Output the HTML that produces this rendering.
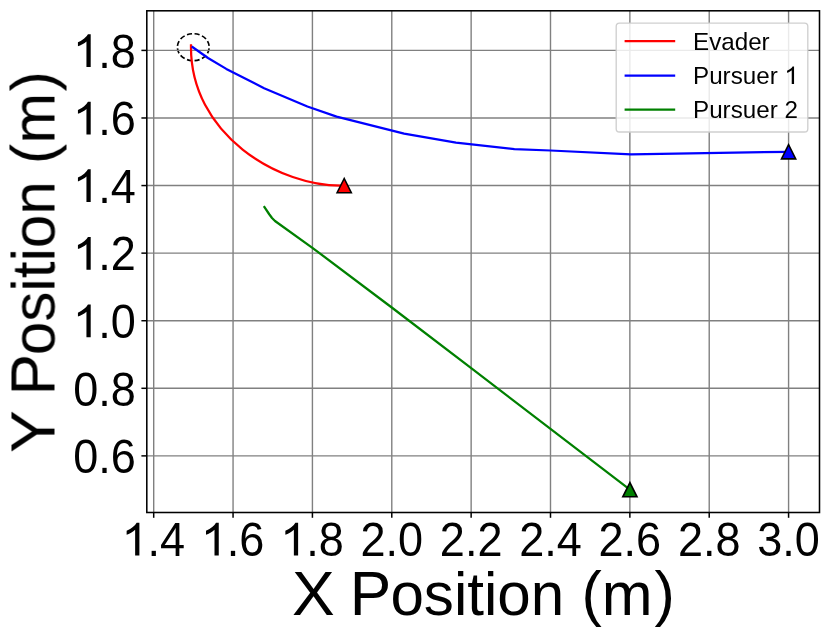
<!DOCTYPE html>
<html><head><meta charset="utf-8"><title>plot</title>
<style>html,body{margin:0;padding:0;background:#fff;width:831px;height:638px;overflow:hidden}svg text{font-family:"Liberation Sans",sans-serif}</style>
</head><body>
<svg width="831" height="638" viewBox="0 0 831 638" style="display:block;position:absolute;left:0;top:0">
<rect x="0" y="0" width="831" height="638" fill="#fff"/>
<path d="M209.20000000000002,47.2 A15.9,13.5 0 1 0 177.4,47.2 A15.9,13.5 0 1 0 209.20000000000002,47.2" fill="none" stroke="#000" stroke-width="1.7" pathLength="12" stroke-dasharray="0.66 0.34" stroke-dashoffset="0.83"/>
<g stroke="#808080" stroke-width="1.4" fill="none"><line x1="153.70" y1="10.8" x2="153.70" y2="512.5"/><line x1="233.06" y1="10.8" x2="233.06" y2="512.5"/><line x1="312.42" y1="10.8" x2="312.42" y2="512.5"/><line x1="391.78" y1="10.8" x2="391.78" y2="512.5"/><line x1="471.14" y1="10.8" x2="471.14" y2="512.5"/><line x1="550.50" y1="10.8" x2="550.50" y2="512.5"/><line x1="629.86" y1="10.8" x2="629.86" y2="512.5"/><line x1="709.22" y1="10.8" x2="709.22" y2="512.5"/><line x1="788.58" y1="10.8" x2="788.58" y2="512.5"/><line x1="146.8" y1="50.40" x2="819.5" y2="50.40"/><line x1="146.8" y1="117.98" x2="819.5" y2="117.98"/><line x1="146.8" y1="185.56" x2="819.5" y2="185.56"/><line x1="146.8" y1="253.14" x2="819.5" y2="253.14"/><line x1="146.8" y1="320.72" x2="819.5" y2="320.72"/><line x1="146.8" y1="388.30" x2="819.5" y2="388.30"/><line x1="146.8" y1="455.88" x2="819.5" y2="455.88"/></g>
<path d="M191.0,44.3 C189.06,134.59 279.60,187.50 344.2,185.6" fill="none" stroke="#ff0000" stroke-width="2.25"/>
<polyline points="191.70,46.50 208.00,58.00 226.30,68.90 264.10,88.20 307.40,106.50 336.60,116.60 404.10,133.70 456.00,142.70 514.40,149.10 550.50,150.50 631.00,154.40 788.60,151.80" fill="none" stroke="#0000ff" stroke-width="2.25" stroke-linejoin="round" stroke-linecap="butt"/>
<polyline points="263.80,206.10 269.25,214.25 272.00,218.00 275.00,221.00 312.40,247.80 391.75,307.50 471.20,368.20 629.90,489.70" fill="none" stroke="#008000" stroke-width="2.25" stroke-linejoin="round" stroke-linecap="butt"/>
<polygon points="344.20,178.50 337.10,192.70 351.30,192.70" fill="#ff0000" stroke="#000" stroke-width="1.6" stroke-linejoin="miter"/>
<polygon points="788.60,144.70 781.50,158.90 795.70,158.90" fill="#0000ff" stroke="#000" stroke-width="1.6" stroke-linejoin="miter"/>
<polygon points="629.90,482.60 622.80,496.80 637.00,496.80" fill="#008000" stroke="#000" stroke-width="1.6" stroke-linejoin="miter"/>
<rect x="146.8" y="10.8" width="672.70" height="501.70" fill="none" stroke="#000" stroke-width="1.55"/>
<g stroke="#000" stroke-width="1.5"><line x1="153.70" y1="512.5" x2="153.70" y2="517.80"/><line x1="233.06" y1="512.5" x2="233.06" y2="517.80"/><line x1="312.42" y1="512.5" x2="312.42" y2="517.80"/><line x1="391.78" y1="512.5" x2="391.78" y2="517.80"/><line x1="471.14" y1="512.5" x2="471.14" y2="517.80"/><line x1="550.50" y1="512.5" x2="550.50" y2="517.80"/><line x1="629.86" y1="512.5" x2="629.86" y2="517.80"/><line x1="709.22" y1="512.5" x2="709.22" y2="517.80"/><line x1="788.58" y1="512.5" x2="788.58" y2="517.80"/><line x1="146.8" y1="50.40" x2="141.40" y2="50.40"/><line x1="146.8" y1="117.98" x2="141.40" y2="117.98"/><line x1="146.8" y1="185.56" x2="141.40" y2="185.56"/><line x1="146.8" y1="253.14" x2="141.40" y2="253.14"/><line x1="146.8" y1="320.72" x2="141.40" y2="320.72"/><line x1="146.8" y1="388.30" x2="141.40" y2="388.30"/><line x1="146.8" y1="455.88" x2="141.40" y2="455.88"/></g>
<rect x="616.2" y="23.1" width="191.6" height="108.9" rx="3.3" ry="3.3" fill="#fff" fill-opacity="0.83" stroke="#ccc" stroke-opacity="0.95" stroke-width="1.35"/>
<line x1="624.6" y1="41.2" x2="675.2" y2="41.2" stroke="#ff0000" stroke-width="2.25"/>
<line x1="624.6" y1="75.6" x2="675.2" y2="75.6" stroke="#0000ff" stroke-width="2.25"/>
<line x1="624.6" y1="109.6" x2="675.2" y2="109.6" stroke="#008000" stroke-width="2.25"/>
<g font-family="'Liberation Sans', sans-serif" fill="#000" opacity="0.999"><text x="693.0" y="49.5" font-size="24.2">Evader</text><path d="M763 0H583V1147Q518 1085 412.5 1023T223 930V1104Q374 1175 487 1276T647 1472H763Z" transform="translate(794.06,83.9) scale(0.01296,-0.01189) translate(-763,0)"/><text x="693.0" y="84.0" font-size="24.2">Pursuer <tspan visibility="hidden">1</tspan></text><text x="693.0" y="117.9" font-size="24.2">Pursuer 2</text><path d="M763 0H583V1147Q518 1085 412.5 1023T223 930V1104Q374 1175 487 1276T647 1472H763Z" transform="translate(139.40,555.40) scale(0.02365,-0.02226) translate(-763,0)"/><text transform="translate(153.70,556.20) scale(0.983,1.06)" font-size="45.8" text-anchor="middle"><tspan visibility="hidden">1</tspan>.4</text><path d="M763 0H583V1147Q518 1085 412.5 1023T223 930V1104Q374 1175 487 1276T647 1472H763Z" transform="translate(218.76,555.40) scale(0.02365,-0.02226) translate(-763,0)"/><text transform="translate(233.06,556.20) scale(0.983,1.06)" font-size="45.8" text-anchor="middle"><tspan visibility="hidden">1</tspan>.6</text><path d="M763 0H583V1147Q518 1085 412.5 1023T223 930V1104Q374 1175 487 1276T647 1472H763Z" transform="translate(298.12,555.40) scale(0.02365,-0.02226) translate(-763,0)"/><text transform="translate(312.42,556.20) scale(0.983,1.06)" font-size="45.8" text-anchor="middle"><tspan visibility="hidden">1</tspan>.8</text><text transform="translate(391.78,556.20) scale(0.983,1.06)" font-size="45.8" text-anchor="middle">2.0</text><text transform="translate(471.14,556.20) scale(0.983,1.06)" font-size="45.8" text-anchor="middle">2.2</text><text transform="translate(550.50,556.20) scale(0.983,1.06)" font-size="45.8" text-anchor="middle">2.4</text><text transform="translate(629.86,556.20) scale(0.983,1.06)" font-size="45.8" text-anchor="middle">2.6</text><text transform="translate(709.22,556.20) scale(0.983,1.06)" font-size="45.8" text-anchor="middle">2.8</text><text transform="translate(788.58,556.20) scale(0.983,1.06)" font-size="45.8" text-anchor="middle">3.0</text><path d="M763 0H583V1147Q518 1085 412.5 1023T223 930V1104Q374 1175 487 1276T647 1472H763Z" transform="translate(90.70,66.95) scale(0.02365,-0.02226) translate(-763,0)"/><text transform="translate(135.90,67.75) scale(0.983,1.06)" font-size="45.8" text-anchor="end"><tspan visibility="hidden">1</tspan>.8</text><path d="M763 0H583V1147Q518 1085 412.5 1023T223 930V1104Q374 1175 487 1276T647 1472H763Z" transform="translate(90.70,134.53) scale(0.02365,-0.02226) translate(-763,0)"/><text transform="translate(135.90,135.33) scale(0.983,1.06)" font-size="45.8" text-anchor="end"><tspan visibility="hidden">1</tspan>.6</text><path d="M763 0H583V1147Q518 1085 412.5 1023T223 930V1104Q374 1175 487 1276T647 1472H763Z" transform="translate(90.70,202.11) scale(0.02365,-0.02226) translate(-763,0)"/><text transform="translate(135.90,202.91) scale(0.983,1.06)" font-size="45.8" text-anchor="end"><tspan visibility="hidden">1</tspan>.4</text><path d="M763 0H583V1147Q518 1085 412.5 1023T223 930V1104Q374 1175 487 1276T647 1472H763Z" transform="translate(90.70,269.69) scale(0.02365,-0.02226) translate(-763,0)"/><text transform="translate(135.90,270.49) scale(0.983,1.06)" font-size="45.8" text-anchor="end"><tspan visibility="hidden">1</tspan>.2</text><path d="M763 0H583V1147Q518 1085 412.5 1023T223 930V1104Q374 1175 487 1276T647 1472H763Z" transform="translate(90.70,337.27) scale(0.02365,-0.02226) translate(-763,0)"/><text transform="translate(135.90,338.07) scale(0.983,1.06)" font-size="45.8" text-anchor="end"><tspan visibility="hidden">1</tspan>.0</text><text transform="translate(135.90,405.65) scale(0.983,1.06)" font-size="45.8" text-anchor="end">0.8</text><text transform="translate(135.90,473.23) scale(0.983,1.06)" font-size="45.8" text-anchor="end">0.6</text><g transform="translate(483.6,614.6)" font-size="61"><text transform="translate(-191.51,0) scale(1.05,1.031)">X</text><text transform="translate(-133.86,0) scale(1.02,1.031)">P</text><text transform="translate(-93.18,0) scale(0.986,1.0)">osition</text><text transform="translate(97.87,-1.0) scale(1.0,1.0)">(</text><text transform="translate(118.18,0) scale(1.0,1.0)">m</text><text transform="translate(171.00,-1.0) scale(1.0,1.0)">)</text></g><g transform="translate(54.5,261.9) rotate(-90)" font-size="61"><text transform="translate(-191.11,0) scale(1.05,1.031)">Y</text><text transform="translate(-133.46,0) scale(1.02,1.031)">P</text><text transform="translate(-93.18,0) scale(0.986,1.0)">osition</text><text transform="translate(97.87,-1.0) scale(1.0,1.0)">(</text><text transform="translate(118.18,0) scale(1.0,1.0)">m</text><text transform="translate(170.40,-1.0) scale(1.0,1.0)">)</text></g></g>
</svg>
</body></html>
